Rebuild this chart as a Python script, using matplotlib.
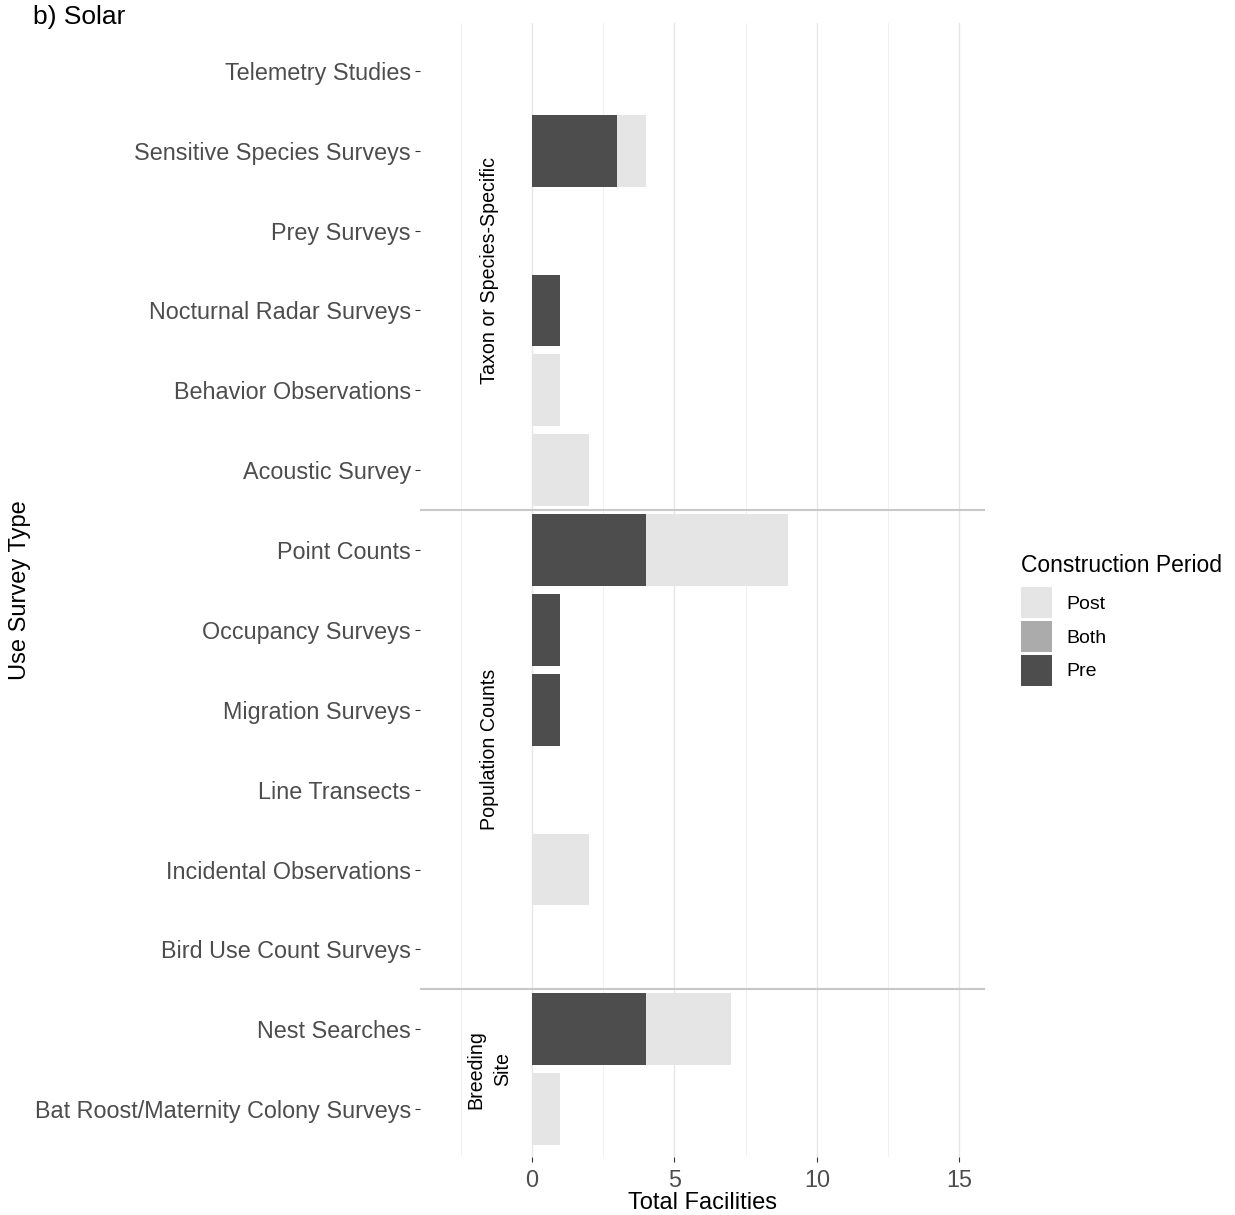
import matplotlib
matplotlib.use("Agg")
import matplotlib.pyplot as plt
from matplotlib.patches import Patch
import numpy as np

plt.rcParams['font.family'] = ['Liberation Sans', 'DejaVu Sans']

categories = ["Telemetry Studies", "Sensitive Species Surveys", "Prey Surveys",
              "Nocturnal Radar Surveys", "Behavior Observations", "Acoustic Survey",
              "Point Counts", "Occupancy Surveys", "Migration Surveys", "Line Transects",
              "Incidental Observations", "Bird Use Count Surveys", "Nest Searches",
              "Bat Roost/Maternity Colony Surveys"]
pre = [0, 3, 0, 1, 0, 0, 4, 1, 1, 0, 0, 0, 4, 0]
both = [0, 0, 0, 0, 0, 0, 0, 0, 0, 0, 0, 0, 0, 0]
post = [0, 1, 0, 0, 1, 2, 5, 0, 0, 0, 2, 0, 3, 1]
group_labels = ["Taxon or Species-Specific", "Population Counts", "Breeding\nSite"]
group_sizes = [6, 6, 2]
x_ticks = [0, 5, 10, 15]
legend_labels = ["Post", "Both", "Pre"]

c_pre, c_both, c_post = "#4D4D4D", "#ABABAB", "#E5E5E5"

W, H = 1235, 1215
fig = plt.figure(figsize=(W / 100, H / 100), dpi=100)
ax = fig.add_axes([420 / W, 1 - 1157 / H, (985 - 420) / W, (1157 - 23) / H])

y = np.arange(len(categories))
pre_a = np.array(pre, float)
both_a = np.array(both, float)
post_a = np.array(post, float)

# grid
for v in [-2.5, 2.5, 7.5, 12.5]:
    ax.axvline(v, color="#F1F1F1", lw=0.7, zorder=0)
for v in x_ticks:
    ax.axvline(v, color="#E6E6E6", lw=1.0, zorder=0)

ax.barh(y, pre_a, height=0.9, color=c_pre, zorder=2)
ax.barh(y, both_a, left=pre_a, height=0.9, color=c_both, zorder=2)
ax.barh(y, post_a, left=pre_a + both_a, height=0.9, color=c_post, zorder=2)

# group separators and labels
bounds = np.cumsum(group_sizes)
start = 0
for lab, size in zip(group_labels, group_sizes):
    center = start + (size - 1) / 2
    ax.text(-1.5, center, lab, rotation=90, ha="center", va="center",
            fontsize=14.1, color="black", linespacing=1.55)
    start += size
for b in bounds[:-1]:
    ax.axhline(b - 0.5, color="#C8C8C8", lw=1.5, zorder=3)

ax.set_xlim(-3.93, 15.9)
ax.set_ylim(len(categories) - 0.4, -0.6)
ax.set_yticks(y)
ax.set_yticklabels(categories)
ax.set_xticks(x_ticks)
ax.set_xticklabels([str(t) for t in x_ticks])
ax.tick_params(axis="y", labelsize=16.8, labelcolor="#4D4D4D", color="#333333",
               length=3.5, width=0.8, pad=3)
ax.tick_params(axis="x", labelsize=16.8, labelcolor="#4D4D4D", color="#333333",
               length=3.5, width=0.8, pad=5)
for s in ax.spines.values():
    s.set_visible(False)

fig.text(702 / W, 1 - 1203 / H, "Total Facilities", ha="center", va="center",
         fontsize=17, color="black")
fig.text(20 / W, 1 - 590 / H, "Use Survey Type", ha="center", va="center",
         rotation=90, fontsize=17, color="black")
fig.text(33 / W, 1 - 17 / H, "b) Solar", ha="left", va="center",
         fontsize=19, color="black")

handles = [Patch(facecolor=c_post), Patch(facecolor=c_both), Patch(facecolor=c_pre)]
leg = fig.legend(handles, legend_labels, title="Construction Period",
                 loc="upper left", bbox_to_anchor=(1021 / W, 1 - 554 / H),
                 frameon=False, fontsize=14, title_fontsize=16.5,
                 handlelength=1.6, handleheight=2.08, labelspacing=0.13,
                 handletextpad=0.72, borderpad=0, borderaxespad=0,
                 alignment="left")
leg._legend_box.sep = 7.5

fig.savefig("out.png", dpi=100, facecolor="white")
